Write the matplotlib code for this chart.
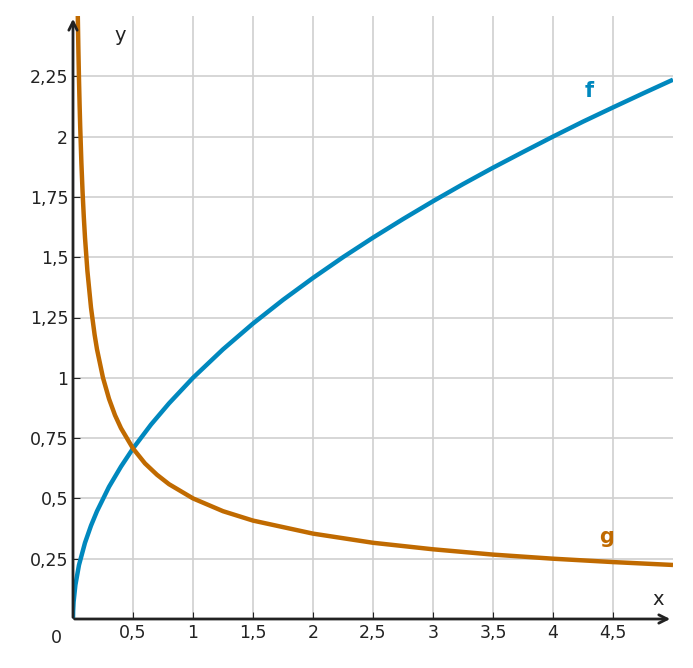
import matplotlib
matplotlib.use("Agg")
import matplotlib.pyplot as plt

f_x = [0, 0.001, 0.005, 0.02, 0.05, 0.1, 0.15, 0.2, 0.3, 0.4, 0.5, 0.65, 0.8, 1, 1.25, 1.5, 1.75, 2, 2.25, 2.5, 2.75, 3, 3.25, 3.5, 3.75, 4, 4.25, 4.5, 4.75, 5]
f_y = [0, 0.032, 0.071, 0.141, 0.224, 0.316, 0.387, 0.447, 0.548, 0.632, 0.707, 0.806, 0.894, 1, 1.118, 1.225, 1.323, 1.414, 1.5, 1.581, 1.658, 1.732, 1.803, 1.871, 1.936, 2, 2.062, 2.121, 2.179, 2.236]
g_x = [0.04, 0.045, 0.05, 0.055, 0.06, 0.07, 0.08, 0.09, 0.1, 0.12, 0.15, 0.18, 0.2, 0.25, 0.3, 0.35, 0.4, 0.5, 0.6, 0.7, 0.8, 1, 1.25, 1.5, 2, 2.5, 3, 3.5, 4, 4.5, 5]
g_y = [2.5, 2.357, 2.236, 2.132, 2.041, 1.890, 1.768, 1.667, 1.581, 1.443, 1.291, 1.179, 1.118, 1.0, 0.913, 0.845, 0.791, 0.707, 0.645, 0.598, 0.559, 0.5, 0.447, 0.408, 0.354, 0.316, 0.289, 0.267, 0.25, 0.236, 0.224]
x_ticks = [0.5, 1, 1.5, 2, 2.5, 3, 3.5, 4, 4.5]
x_labels = ["0,5", "1", "1,5", "2", "2,5", "3", "3,5", "4", "4,5"]
y_ticks = [0.25, 0.5, 0.75, 1, 1.25, 1.5, 1.75, 2, 2.25]
y_labels = ["0,25", "0,5", "0,75", "1", "1,25", "1,5", "1,75", "2", "2,25"]

blue = "#0088BE"
orange = "#C06A00"
fig = plt.figure(figsize=(6.93, 6.68), dpi=100)
ax = fig.add_axes([73/693, 49/668, 600/693, 603/668])
ax.set_xlim(0, 5)
ax.set_ylim(0, 2.5)
for s in ax.spines.values():
    s.set_visible(False)
ax.set_xticks(x_ticks)
ax.set_xticklabels(x_labels, fontsize=12.5, color="#222222")
ax.set_yticks(y_ticks)
ax.set_yticklabels(y_labels, fontsize=12.5, color="#222222")
ax.tick_params(length=5, color="#222222", direction="in")
ax.grid(True, color="#d0d0d0", linewidth=1.2)
ax.set_axisbelow(True)
ax.plot(f_x, f_y, color=blue, lw=3.2, solid_capstyle="butt")
ax.plot(g_x, g_y, color=orange, lw=3.2, solid_capstyle="butt")
ax.annotate("", xy=(5.0, 0), xytext=(-0.01, 0), xycoords="data",
            arrowprops=dict(arrowstyle="->", color="#222222", lw=2, mutation_scale=15), annotation_clip=False)
ax.annotate("", xy=(0, 2.5), xytext=(0, -0.005),
            arrowprops=dict(arrowstyle="->", color="#222222", lw=2, mutation_scale=15), annotation_clip=False)
ax.text(4.88, 0.08, "x", fontsize=14, color="#222222", ha="center", va="center")
ax.text(0.39, 2.42, "y", fontsize=14, color="#222222", ha="center", va="center")
ax.text(-0.14, -0.08, "0", fontsize=12.5, color="#222222", ha="center", va="center")
ax.text(4.3, 2.19, "f", fontsize=15, color=blue, fontweight="bold", ha="center", va="center")
ax.text(4.45, 0.34, "g", fontsize=15, color=orange, fontweight="bold", ha="center", va="center")
fig.savefig("out.png", dpi=100)
